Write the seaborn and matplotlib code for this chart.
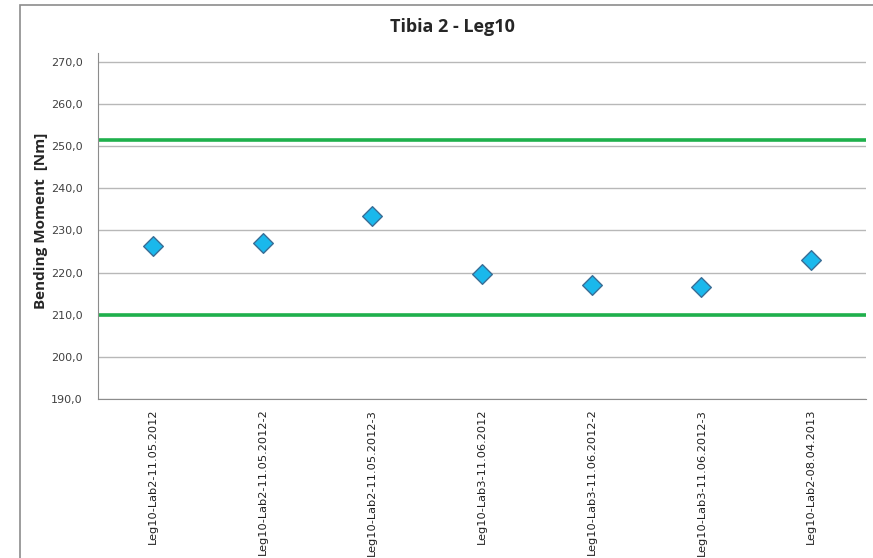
import matplotlib
matplotlib.use("Agg")
import matplotlib.pyplot as plt
import seaborn as sns
import pandas as pd
from matplotlib.patches import Rectangle

tests = ["Leg10-Lab2-11.05.2012", "Leg10-Lab2-11.05.2012-2", "Leg10-Lab2-11.05.2012-3",
         "Leg10-Lab3-11.06.2012", "Leg10-Lab3-11.06.2012-2", "Leg10-Lab3-11.06.2012-3",
         "Leg10-Lab2-08.04.2013"]
moment = [226.3, 227.0, 233.4, 219.7, 217.1, 216.6, 223.0]
upper_limit = 251.5
lower_limit = 210.0
yticks = [190, 200, 210, 220, 230, 240, 250, 260, 270]

df = pd.DataFrame({"test": tests, "moment": moment})

sns.set_style("white")
plt.rcParams["font.family"] = ["DejaVu Sans"]

fig = plt.figure(figsize=(8.73, 5.58), dpi=100)
ax = fig.add_axes([98 / 873, 1 - 399 / 558, 768 / 873, 346 / 558])

# chart border (partly cut off in the original screenshot)
fig.patches.append(Rectangle((20 / 873, -0.05), 1.2, 1 - 5 / 558 + 0.05, transform=fig.transFigure,
                             fill=False, edgecolor="#8c8c8c", linewidth=1.2))

for t in yticks:
    ax.axhline(t, color="#b8b8b8", linewidth=1, zorder=0)
ax.axhline(upper_limit, color="#1fb04c", linewidth=2.6, zorder=1)
ax.axhline(lower_limit, color="#1fb04c", linewidth=2.6, zorder=1)

sns.scatterplot(data=df, x="test", y="moment", marker="D", s=100, color="#1ab8ec",
                edgecolor="#3a6e96", linewidth=1, zorder=3, ax=ax)

ax.set_xlim(-0.5, len(tests) - 0.5)
ax.set_ylim(190, 272.1)
ax.set_yticks(yticks)
ax.set_yticklabels([f"{t:.1f}".replace(".", ",") for t in yticks], fontsize=8, color="#404040")
ax.set_xticks(range(len(tests)))
ax.set_xticklabels(tests, rotation=90, fontsize=8.2, color="#202020")
ax.tick_params(axis="y", length=4, color="#8c8c8c", pad=7)
ax.tick_params(axis="x", length=0, pad=7)
for side in ["top", "right"]:
    ax.spines[side].set_visible(False)
for side in ["left", "bottom"]:
    ax.spines[side].set_color("#8c8c8c")

ax.set_xlabel("")
ax.set_ylabel("")
fig.text(41 / 873, 1 - 221 / 558, "Bending Moment  [Nm]", rotation=90, ha="center", va="center",
         fontsize=11, fontweight="bold", family="Open Sans")
fig.text(452 / 873, 1 - 27 / 558, "Tibia 2 - Leg10", ha="center", va="center",
         fontsize=13, fontweight="bold", family="Open Sans")

fig.savefig("out.png", dpi=100)
